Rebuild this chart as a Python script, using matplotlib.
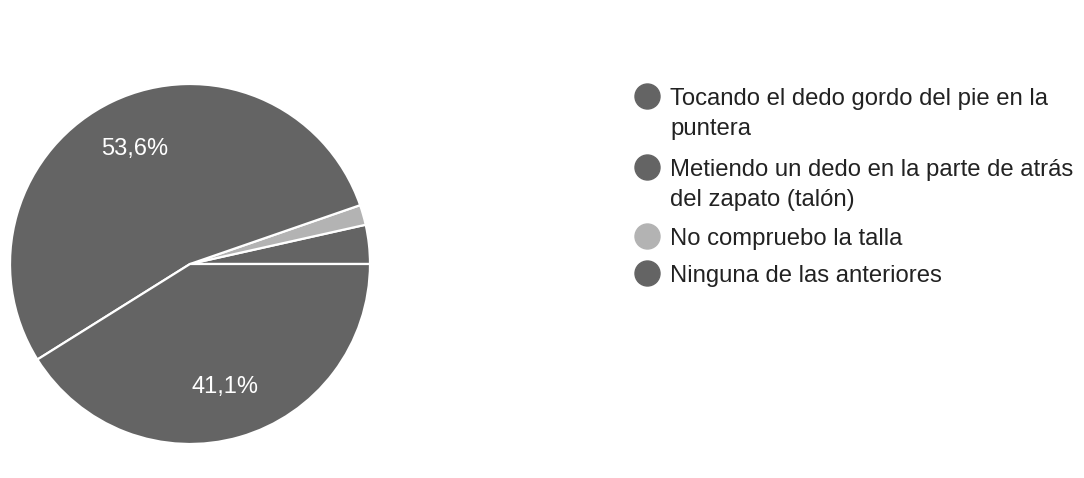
import matplotlib.pyplot as plt
from matplotlib.lines import Line2D

plt.rcParams['font.family'] = ['Liberation Sans', 'DejaVu Sans']

# answers in legend order
labels = ['Tocando el dedo gordo del pie en la\npuntera',
          'Metiendo un dedo en la parte de atrás\ndel zapato (talón)',
          'No compruebo la talla',
          'Ninguna de las anteriores']
values = [53.6, 41.1, 1.8, 3.5]
colors = ['#646464', '#646464', '#b3b3b3', '#646464']

# drawing order of the slices (counterclockwise from 3 o'clock)
order = [3, 2, 0, 1]

W, H = 1084, 478
fig = plt.figure(figsize=(W / 100, H / 100), dpi=100)
ax = fig.add_axes([10 / W, 34 / H, 360 / W, 360 / H])


def fmt(p):
    return ('%.1f%%' % p).replace('.', ',') if p > 5 else ''


wedges, texts, autotexts = ax.pie([values[i] for i in order],
                                  colors=[colors[i] for i in order],
                                  startangle=0, counterclock=True,
                                  autopct=fmt, pctdistance=0.71,
                                  wedgeprops={'edgecolor': 'white', 'linewidth': 1.6})
for t in autotexts:
    t.set_color('white')
    t.set_fontsize(17)
ax.set_xlim(-1, 1)
ax.set_ylim(-1, 1)
ax.set_aspect('equal')

# legend drawn by hand to match the Google Forms layout
baselines = [105, 176, 245, 282]   # pixel rows of the first text line
for lab, col, yb in zip(labels, colors, baselines):
    fig.add_artist(Line2D([647 / W], [1 - (yb - 9.5) / H], marker='o', markersize=18,
                          color=col, transform=fig.transFigure))
    for k, line in enumerate(lab.split('\n')):
        fig.text(670 / W, 1 - (yb + 30 * k) / H, line, fontsize=17.2,
                 color='#222222', va='baseline', ha='left')

fig.savefig('out.png', dpi=100, facecolor='white')
